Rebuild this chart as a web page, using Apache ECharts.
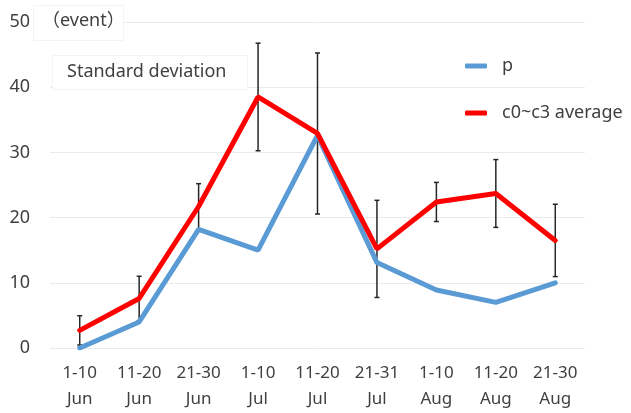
<!DOCTYPE html>
<html>
<head>
<meta charset="utf-8">
<script src="https://cdn.jsdelivr.net/npm/echarts@6/dist/echarts.min.js"></script>
<style>
  html, body { margin: 0; padding: 0; background: #fff; }
  #chart { width: 631px; height: 413px; }
</style>
</head>
<body>
<div id="chart"></div>
<script>
// Ten-day periods, June to August
const periods = ['1-10\nJun', '11-20\nJun', '21-30\nJun', '1-10\nJul', '11-20\nJul', '21-31\nJul', '1-10\nAug', '11-20\nAug', '21-30\nAug'];
// Event counts for p
const pValues = [0, 4, 18.2, 15, 32.6, 13.1, 8.9, 7, 10];
// Mean of c0~c3 and its standard deviation
const avgValues = [2.7, 7.6, 21.7, 38.5, 32.9, 15.2, 22.4, 23.7, 16.5];
const sdValues = [2.25, 3.4, 3.5, 8.25, 12.35, 7.45, 3.0, 5.2, 5.55];
// Y axis range
const yMin = 0, yMax = 50, yStep = 10;

const textColor = '#404040';
const fontFamily = '"Noto Sans", "Noto Sans CJK JP", sans-serif';

const chart = echarts.init(document.getElementById('chart'), null, { renderer: 'canvas' });

const errorData = avgValues.map((v, i) => [i, v - sdValues[i], v + sdValues[i]]);

chart.setOption({
  animation: false,
  backgroundColor: '#ffffff',
  textStyle: { fontFamily: fontFamily, color: textColor },
  grid: { left: 50, right: 46, top: 22, bottom: 65 },
  xAxis: {
    type: 'category',
    data: periods,
    boundaryGap: true,
    axisLine: { show: false },
    axisTick: { show: false },
    axisLabel: {
      color: textColor, fontSize: 17, lineHeight: 26, margin: 12,
      fontFamily: fontFamily, interval: 0
    }
  },
  yAxis: {
    type: 'value',
    min: yMin, max: yMax, interval: yStep,
    axisLine: { show: false },
    axisTick: { show: false },
    splitLine: { lineStyle: { color: '#ebebeb', width: 1 } },
    axisLabel: { color: textColor, fontSize: 18, margin: 20, fontFamily: fontFamily }
  },
  legend: {
    orient: 'vertical',
    left: 460, top: 51,
    itemWidth: 22, itemHeight: 5, itemGap: 27,
    icon: 'roundRect',
    textStyle: { color: textColor, fontSize: 18, lineHeight: 20, padding: [0, 0, 0, 10], fontFamily: fontFamily },
    data: ['p', 'c0~c3 average']
  },
  graphic: [
    {
      type: 'rect', left: 33, top: 5, z: 100,
      shape: { width: 90, height: 35 },
      style: { fill: '#fff', stroke: '#f3f3f3', lineWidth: 1 }
    },
    {
      type: 'text', left: 42, top: 12, z: 101,
      style: { text: '（event）', fill: textColor, fontSize: 18, fontFamily: fontFamily }
    },
    {
      type: 'rect', left: 52, top: 55, z: 100,
      shape: { width: 195, height: 34 },
      style: { fill: '#fff', stroke: '#f3f3f3', lineWidth: 1 }
    },
    {
      type: 'text', left: 67, top: 63, z: 101,
      style: { text: 'Standard deviation', fill: textColor, fontSize: 18, fontFamily: fontFamily }
    }
  ],
  series: [
    {
      name: 'error',
      type: 'custom',
      z: 1,
      silent: true,
      data: errorData,
      renderItem: function (params, api) {
        const x = api.value(0);
        const lo = api.coord([x, api.value(1)]);
        const hi = api.coord([x, api.value(2)]);
        const cap = 2.5;
        const style = { stroke: '#262626', lineWidth: 1.5 };
        return {
          type: 'group',
          children: [
            { type: 'line', shape: { x1: lo[0], y1: lo[1], x2: hi[0], y2: hi[1] }, style: style },
            { type: 'line', shape: { x1: hi[0] - cap, y1: hi[1], x2: hi[0] + cap, y2: hi[1] }, style: style },
            { type: 'line', shape: { x1: lo[0] - cap, y1: lo[1], x2: lo[0] + cap, y2: lo[1] }, style: style }
          ]
        };
      }
    },
    {
      name: 'p',
      type: 'line',
      z: 2,
      data: pValues,
      symbol: 'none',
      itemStyle: { color: '#5B9BD5' },
      lineStyle: { color: '#5B9BD5', width: 5, cap: 'round' }
    },
    {
      name: 'c0~c3 average',
      type: 'line',
      z: 3,
      data: avgValues,
      symbol: 'none',
      itemStyle: { color: '#FF0000' },
      lineStyle: { color: '#FF0000', width: 5, cap: 'round' }
    }
  ]
});
</script>
</body>
</html>
